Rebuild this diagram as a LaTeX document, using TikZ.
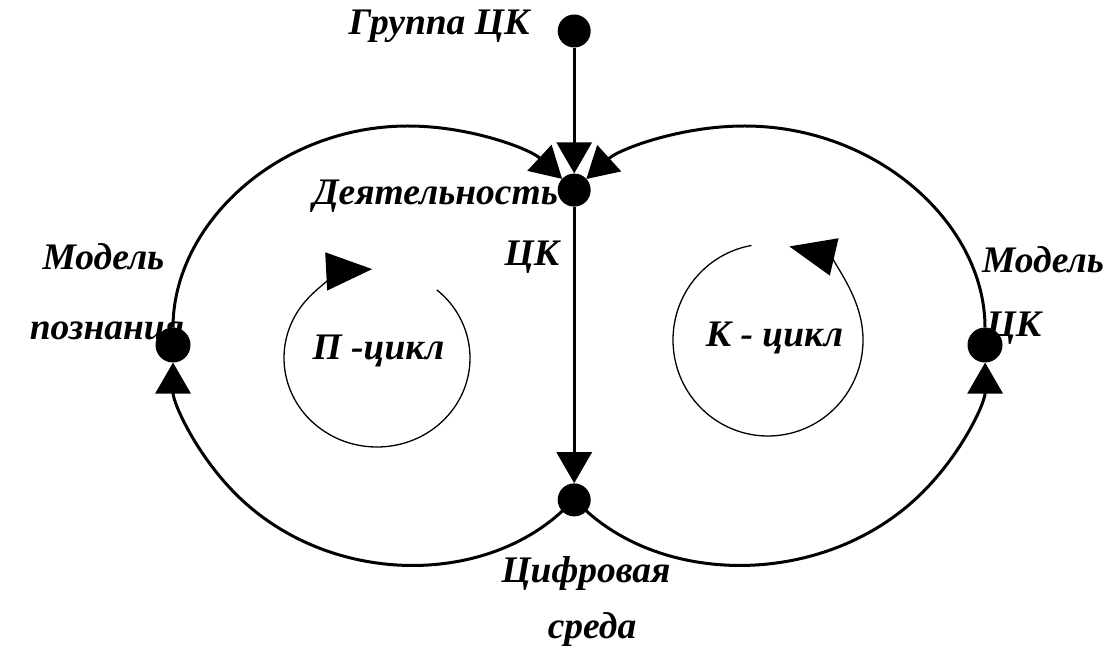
\documentclass[tikz,border=0pt]{standalone}
\usepackage{fontspec}
\setmainfont{Liberation Serif}
\usetikzlibrary{arrows.meta}
\begin{document}
\begin{tikzpicture}[x=1pt,y=1pt,
  dot/.style={circle,fill=black,inner sep=0pt,minimum size=33pt},
  sidedot/.style={dot,minimum size=35pt},
  lbl/.style={font=\fontsize{37.5}{42}\selectfont\bfseries\itshape,inner sep=0pt,anchor=base},
  flow/.style={line width=3pt,-{Triangle[length=31pt,width=35pt]}},
  cyc/.style={line width=1.3pt,-{Triangle[length=46pt,width=38pt]}}]
\useasboundingbox (0,0) rectangle (1110,648);

% points of the two loops
\node[dot] (grp) at (574.2,617) {};
\node[dot] (act) at (574.2,457.9) {};
\node[dot] (env) at (574.2,148.1) {};
\node[sidedot] (know) at (173,303) {};
\node[sidedot] (model) at (985,303) {};

% main flow
\draw[flow] (grp) -- (act);
\draw[flow] (act) -- (env);

% left loop (ellipse centred at 408,303)
\draw[flow,shorten <=16pt,shorten >=17.5pt] (env.center)
  arc[start angle=-45,end angle=-180,x radius=235pt,y radius=219pt];
\draw[flow,shorten <=17.5pt,shorten >=16.5pt] (know.center)
  arc[start angle=180,end angle=45,x radius=235pt,y radius=219pt];

% right loop (ellipse centred at 744.3,303)
\draw[flow,shorten <=16pt,shorten >=17.5pt] (env.center)
  arc[start angle=225,end angle=360,x radius=240.7pt,y radius=219pt];
\draw[flow,shorten <=17.5pt,shorten >=16.5pt] (model.center)
  arc[start angle=0,end angle=135,x radius=240.7pt,y radius=219pt];

% inner cycles
\node[lbl] (pcyc) at (378.5,288) {П -цикл};
\node[lbl] (kcyc) at (774.5,301) {К - цикл};
\draw[cyc] ([shift={(50:93pt and 89pt)}]377,290)
  arc[start angle=50,end angle=-267,x radius=93pt,y radius=89pt];
\draw[cyc] ([shift={(100:95pt and 96pt)}]768,308)
  arc[start angle=100,end angle=437,x radius=95pt,y radius=96pt];

% labels
\node[lbl] (tgrp) at (439,613) {Группа ЦК};
\node[lbl] (tact1) at (435.5,443) {Деятельность};
\node[lbl] (tact2) at (532,382) {ЦК};
\node[lbl] (tknow1) at (103.5,378) {Модель};
\node[lbl] (tknow2) at (107,308) {познания};
\node[lbl] (tmod1) at (1043,375) {Модель};
\node[lbl] (tmod2) at (1014,311) {ЦК};
\node[lbl] (tenv1) at (586,66) {Цифровая};
\node[lbl] (tenv2) at (592,10) {среда};
\end{tikzpicture}
\end{document}
